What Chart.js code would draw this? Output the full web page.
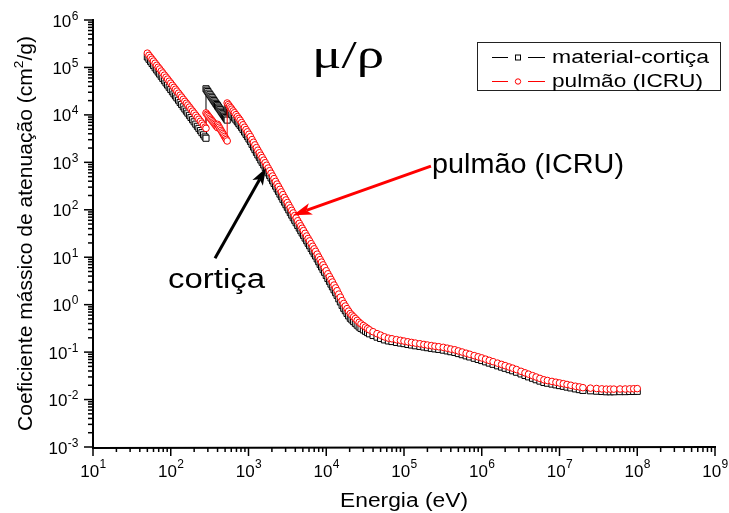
<!DOCTYPE html>
<html><head><meta charset="utf-8">
<script src="https://cdn.jsdelivr.net/npm/chart.js@4/dist/chart.umd.min.js"></script>
<style>html,body{margin:0;padding:0;background:#fff;}</style>
</head><body>
<canvas id="c" width="729" height="513"></canvas>
<script>
// ---------- data ----------
const energy = [
  50,52.5,55,57.5,60,63,66,69,72,75.5,79,83,87,91,95.5,100,105,110,115,120,
  126,132,138,145,152,159,166,174,182,191,200,210,220,230,241,252,264,276,284,
  284,292,300,310,320,330,340,350,360,370,380,390,400,
  400,410,420,432,444,456,468,480,493,506,519,532,
  532,550,570,590,610,635,660,690,720,750,780,
  815,850,890,930,970,1015,
  1060,1110,1160,1210,
  1265,1320,1380,1440,1500,1570,
  1640,1710,1790,1870,1950,2040,2130,2230,2330,2430,2540,2650,2770,
  2900,3030,3160,3300,3450,3600,
  3760,3930,4100,4300,4500,4700,4900,5100,5350,5600,5850,6100,6400,6700,7000,
  7300,7650,8000,8350,8700,9100,9500,10000,10500,11000,11500,12000,12600,13200,13800,
  14500,15200,16000,
  16800,17600,18500,19400,
  20400,21400,22500,23700,25000,26500,
  28000,30000,32000,34000,36000,
  4e4,4.5e4,5e4,5.6e4,6.3e4,7e4,8e4,9e4,1e5,1.12e5,
  1.25e5,1.4e5,1.6e5,1.8e5,2e5,2.25e5,2.5e5,2.8e5,3.2e5,3.6e5,
  4e5,4.5e5,5e5,5.6e5,6.3e5,7e5,8e5,9e5,1e6,1.12e6,
  1.25e6,1.4e6,1.6e6,1.8e6,2e6,2.25e6,2.5e6,2.8e6,3.2e6,3.6e6,
  4e6,4.5e6,5e6,5.6e6,6.3e6,7e6,8e6,9e6,1e7,1.12e7,
  1.25e7,1.4e7,1.6e7,1.8e7,2e7,2.5e7,3e7,3.5e7,4e7,4.5e7,
  5e7,6e7,7e7,8e7,9e7,1e8
];
const muCortica = [
  1.66e5,1.49e5,1.34e5,1.21e5,1.10e5,9.82e4,8.84e4,7.99e4,7.26e4,6.51e4,5.88e4,5.25e4,4.72e4,4.26e4,3.82e4,3.44e4,3.08e4,2.77e4,2.51e4,2.28e4,
  2.04e4,1.83e4,1.66e4,1.48e4,1.33e4,1.20e4,1.09e4,9.79e3,8.84e3,7.92e3,7.14e3,6.39e3,5.75e3,5.20e3,4.67e3,4.22e3,3.80e3,3.43e3,3.22e3,
  3.55e4,3.32e4,3.11e4,2.87e4,2.66e4,2.47e4,2.30e4,2.14e4,2.00e4,1.87e4,1.75e4,1.65e4,1.55e4,
  1.55e4,1.46e4,1.38e4,1.29e4,1.20e4,1.13e4,1.06e4,9.97e3,9.34e3,8.77e3,8.25e3,7.77e3,
  1.35e4,1.26e4,1.17e4,1.09e4,1.01e4,9.30e3,8.58e3,7.82e3,7.15e3,6.56e3,6.04e3,
  5.47e3,4.91e3,4.36e3,3.89e3,3.49e3,3.10e3,
  2.76e3,2.40e3,2.10e3,1.85e3,
  1.62e3,1.43e3,1.27e3,1.12e3,1.00e3,882,
  779,689,601,529,468,409,360,315,276,244,214,189,166,
  145,128,113,99.5,87.4,77.2,
  68.1,60.0,53.3,46.7,41.1,36.4,32.4,28.9,25.3,22.3,19.7,17.5,15.3,13.5,11.9,
  10.6,9.20,8.05,7.08,6.26,5.47,4.81,4.12,3.56,3.10,2.71,2.38,2.06,1.79,1.57,
  1.33,1.14,0.966,
  0.839,0.745,0.655,0.580,
  0.516,0.477,0.440,0.404,0.370,0.338,
  0.316,0.294,0.275,0.258,0.243,
  0.224,0.207,0.194,0.181,0.172,0.167,0.160,0.155,0.151,0.145,
  0.141,0.136,0.132,0.128,0.124,0.120,0.117,0.114,0.110,0.106,
  0.102,0.0984,0.0933,0.0883,0.0834,0.0791,0.0741,0.0700,0.0664,0.0624,
  0.0587,0.0553,0.0514,0.0483,0.0456,0.0428,0.0404,0.0377,0.0347,0.0322,
  0.0301,0.0281,0.0262,0.0245,0.0229,0.0221,0.0212,0.0204,0.0197,0.0190,
  0.0183,0.0176,0.0168,0.0162,0.0156,0.0153,0.0150,0.0148,0.0146,0.0146,
  0.0146,0.0147,0.0147,0.0148,0.0148,0.0149
];
const muPulmao = [
  2.00e5,1.80e5,1.63e5,1.49e5,1.36e5,1.23e5,1.11e5,1.01e5,9.28e4,8.40e4,7.64e4,6.88e4,6.24e4,5.68e4,5.13e4,4.66e4,4.20e4,3.81e4,3.47e4,3.17e4,
  2.87e4,2.60e4,2.37e4,2.13e4,1.93e4,1.76e4,1.61e4,1.46e4,1.32e4,1.20e4,1.09e4,9.80e3,8.89e3,8.10e3,7.34e3,6.68e3,6.06e3,5.52e3,5.20e3,
  1.10e4,1.03e4,9.78e3,9.14e3,8.56e3,8.03e3,7.54e3,7.10e3,6.70e3,6.32e3,5.98e3,5.67e3,5.38e3,
  6.31e3,5.89e3,5.50e3,5.08e3,4.70e3,4.36e3,4.06e3,3.78e3,3.50e3,3.25e3,3.03e3,2.82e3,
  1.78e4,1.65e4,1.53e4,1.42e4,1.32e4,1.21e4,1.11e4,1.01e4,9.20e3,8.41e3,7.73e3,
  6.88e3,6.18e3,5.49e3,4.90e3,4.39e3,3.91e3,
  3.48e3,3.02e3,2.65e3,2.33e3,
  2.04e3,1.80e3,1.59e3,1.41e3,1.26e3,1.11e3,
  981,867,757,666,589,515,454,396,348,308,270,238,209,
  182,161,142,125,110,97.2,
  85.7,75.6,67.1,58.7,51.7,45.8,40.8,36.4,31.9,28.0,24.8,22.1,19.3,17.0,15.0,
  13.3,11.6,10.1,8.91,7.88,6.89,6.05,5.19,4.48,3.90,3.41,3.00,2.59,2.26,1.97,
  1.67,1.44,1.22,
  1.06,0.937,0.825,0.731,
  0.650,0.601,0.553,0.509,0.466,0.424,
  0.393,0.363,0.337,0.314,0.294,
  0.269,0.245,0.228,0.210,0.197,0.191,0.183,0.177,0.171,0.165,
  0.160,0.155,0.150,0.145,0.141,0.137,0.133,0.130,0.126,0.121,
  0.116,0.112,0.106,0.1005,0.0948,0.0900,0.0843,0.0796,0.0755,0.0710,
  0.0668,0.0629,0.0585,0.0550,0.0519,0.0486,0.0459,0.0429,0.0394,0.0366,
  0.0343,0.0319,0.0299,0.0279,0.0261,0.0252,0.0241,0.0232,0.0224,0.0216,
  0.0208,0.0200,0.0191,0.0185,0.0178,0.0174,0.0171,0.0168,0.0166,0.0166,
  0.0166,0.0167,0.0167,0.0168,0.0169,0.0170
];
const seriesNames = ['material-cortiça', 'pulmão (ICRU)'];
const xTickLabels = ['10^1','10^2','10^3','10^4','10^5','10^6','10^7','10^8','10^9'];
const yTickLabels = ['10^-3','10^-2','10^-1','10^0','10^1','10^2','10^3','10^4','10^5','10^6'];
const xTitle = 'Energia (eV)';
const yTitleParts = ['Coeficiente mássico de atenuação (cm', '2', '/g)'];
const plotTitle = 'μ/ρ';
// annotation arrows in data coordinates: [E tail, mu tail, E tip, mu tip]
const arrowCortica = [371, 9.5, 1680, 755];
const arrowPulmao = [2.22e5, 832, 3730, 77];
const labelCortica = 'cortiça';
const labelPulmao = 'pulmão (ICRU)';

const SANS = '"Liberation Sans", Arial, Helvetica, sans-serif';

function tickValue(lbl){ const p = lbl.split('^'); return Math.pow(Number(p[0]), Number(p[1])); }

function fitText(ctx, text, x, y, font, width, align){
  ctx.save(); ctx.font = font;
  const w = ctx.measureText(text).width; const s = width / w;
  ctx.translate(x, y); ctx.scale(s, 1);
  const ox = align === 'center' ? -w/2 : (align === 'right' ? -w : 0);
  ctx.textAlign = 'left'; ctx.textBaseline = 'alphabetic';
  ctx.fillText(text, ox, 0); ctx.restore();
}

function drawPow(ctx, lbl, x, y, align, expDy){
  const p = lbl.split('^');
  ctx.save(); ctx.textAlign = 'left'; ctx.textBaseline = 'alphabetic'; ctx.fillStyle = '#000';
  ctx.font = '17px ' + SANS; const wb = ctx.measureText(p[0]).width;
  ctx.font = '12px ' + SANS; const we = ctx.measureText(p[1]).width;
  let x0 = align === 'right' ? x - wb - we : x - (wb + we)/2;
  ctx.font = '17px ' + SANS; ctx.fillText(p[0], x0, y);
  ctx.font = '12px ' + SANS; ctx.fillText(p[1], x0 + wb + 0.5, y + expDy);
  ctx.restore();
}

function arrow(ctx, x1, y1, x2, y2, color, lw, hl, hw){
  const a = Math.atan2(y2 - y1, x2 - x1), c = Math.cos(a), s = Math.sin(a);
  const bx = x2 - hl*c, by = y2 - hl*s;
  const nx = x2 - hl*0.75*c, ny = y2 - hl*0.75*s;
  ctx.save();
  ctx.strokeStyle = color; ctx.lineWidth = lw; ctx.lineCap = 'butt';
  ctx.beginPath(); ctx.moveTo(x1, y1); ctx.lineTo(nx, ny); ctx.stroke();
  ctx.fillStyle = color; ctx.beginPath();
  ctx.moveTo(x2, y2); ctx.lineTo(bx - hw*s, by + hw*c); ctx.lineTo(nx, ny); ctx.lineTo(bx + hw*s, by - hw*c);
  ctx.closePath(); ctx.fill(); ctx.restore();
}

const decor = {
  id: 'decor',
  afterDatasetsDraw(chart){
    const ctx = chart.ctx, a = chart.chartArea, xs = chart.scales.x, ys = chart.scales.y;
    ctx.save();
    ctx.strokeStyle = '#000'; ctx.lineWidth = 2;
    ctx.beginPath(); ctx.moveTo(a.left, a.top - 1); ctx.lineTo(a.left, a.bottom + 1); ctx.lineTo(a.right + 1, a.bottom); ctx.stroke();
    ctx.lineWidth = 1.5;
    yTickLabels.forEach((lbl, i) => {
      const v = tickValue(lbl), py = ys.getPixelForValue(v);
      ctx.beginPath(); ctx.moveTo(a.left - 9, py); ctx.lineTo(a.left, py); ctx.stroke();
      drawPow(ctx, lbl, a.left - 15, py + 6.5, 'right', -7);
      if (i < yTickLabels.length - 1) {
        for (let m = 2; m <= 9; m++) {
          const pm = ys.getPixelForValue(v * m);
          ctx.beginPath(); ctx.moveTo(a.left - 5, pm); ctx.lineTo(a.left, pm); ctx.stroke();
        }
      }
    });
    xTickLabels.forEach((lbl, i) => {
      const v = tickValue(lbl), px = xs.getPixelForValue(v);
      ctx.beginPath(); ctx.moveTo(px, a.bottom); ctx.lineTo(px, a.bottom + 9); ctx.stroke();
      drawPow(ctx, lbl, px, a.bottom + 30, 'center', -9);
      if (i < xTickLabels.length - 1) {
        for (let m = 2; m <= 9; m++) {
          const pm = xs.getPixelForValue(v * m);
          ctx.beginPath(); ctx.moveTo(pm, a.bottom); ctx.lineTo(pm, a.bottom + 5); ctx.stroke();
        }
      }
    });
    ctx.fillStyle = '#000';
    fitText(ctx, xTitle, (a.left + a.right)/2, 507, '20px ' + SANS, 128, 'center');
    ctx.save();
    ctx.translate(32, (a.top + a.bottom)/2); ctx.rotate(-Math.PI/2);
    ctx.font = '20px ' + SANS; const w1 = ctx.measureText(yTitleParts[0]).width, w3 = ctx.measureText(yTitleParts[2]).width;
    ctx.font = '13px ' + SANS; const w2 = ctx.measureText(yTitleParts[1]).width;
    const tot = w1 + w2 + w3, sc = 395 / tot;
    ctx.scale(sc, 1);
    let xx = -tot/2; ctx.textAlign = 'left'; ctx.textBaseline = 'alphabetic';
    ctx.font = '20px ' + SANS; ctx.fillText(yTitleParts[0], xx, 0); xx += w1;
    ctx.font = '13px ' + SANS; ctx.fillText(yTitleParts[1], xx, -9); xx += w2;
    ctx.font = '20px ' + SANS; ctx.fillText(yTitleParts[2], xx, 0);
    ctx.restore();
    fitText(ctx, plotTitle, 312, 68, '40px "Liberation Serif", "DejaVu Serif", serif', 72, 'left');
    arrow(ctx, xs.getPixelForValue(arrowCortica[0]), ys.getPixelForValue(arrowCortica[1]),
               xs.getPixelForValue(arrowCortica[2]), ys.getPixelForValue(arrowCortica[3]), '#000', 3, 17, 6);
    arrow(ctx, xs.getPixelForValue(arrowPulmao[0]), ys.getPixelForValue(arrowPulmao[1]),
               xs.getPixelForValue(arrowPulmao[2]), ys.getPixelForValue(arrowPulmao[3]), '#ff0000', 3, 19, 6);
    ctx.fillStyle = '#000';
    fitText(ctx, labelPulmao, 432, 173, '27px ' + SANS, 192, 'left');
    fitText(ctx, labelCortica, 168, 288, '27px ' + SANS, 97, 'left');
    ctx.fillStyle = '#fff'; ctx.fillRect(477, 42, 244, 49);
    ctx.strokeStyle = '#222'; ctx.lineWidth = 1; ctx.strokeRect(477.5, 42.5, 243, 48);
    const rows = [{y:57, base:63, color:'#000', w:157}, {y:81, base:87, color:'#ff0000', w:151}];
    rows.forEach((r, i) => {
      ctx.strokeStyle = r.color; ctx.lineWidth = 1;
      ctx.beginPath(); ctx.moveTo(492, r.y + 0.5); ctx.lineTo(508, r.y + 0.5);
      ctx.moveTo(528, r.y + 0.5); ctx.lineTo(545, r.y + 0.5); ctx.stroke();
      ctx.fillStyle = '#fff';
      if (i === 0) { ctx.fillRect(515.5, r.y - 2, 5, 5); ctx.strokeRect(515.5, r.y - 2, 5, 5); }
      else { ctx.beginPath(); ctx.arc(518, r.y + 0.5, 2.7, 0, Math.PI*2); ctx.fill(); ctx.stroke(); }
      ctx.fillStyle = '#000';
      fitText(ctx, seriesNames[i], 552, r.base, '18px ' + SANS, r.w, 'left');
    });
    ctx.restore();
  }
};

new Chart(document.getElementById('c'), {
  type: 'line',
  data: {
    datasets: [
      { label: seriesNames[0], data: energy.map((e, i) => ({x: e, y: muCortica[i]})),
        borderColor: '#000', borderWidth: 1, pointStyle: 'rect', pointRadius: 4.3,
        pointBorderWidth: 1, pointBorderColor: '#000', pointBackgroundColor: '#fff', order: 2, tension: 0 },
      { label: seriesNames[1], data: energy.map((e, i) => ({x: e, y: muPulmao[i]})),
        borderColor: '#ff0000', borderWidth: 1, pointStyle: 'circle', pointRadius: 3.3,
        pointBorderWidth: 1, pointBorderColor: '#ff0000', pointBackgroundColor: '#fff', order: 1, tension: 0 }
    ]
  },
  options: {
    responsive: false, animation: false, devicePixelRatio: 1,
    layout: { padding: { left: 93, right: 14, top: 20, bottom: 66 } },
    scales: {
      x: { type: 'logarithmic', min: 10, max: 1e9, display: false },
      y: { type: 'logarithmic', min: 1e-3, max: 1e6, display: false }
    },
    plugins: { legend: { display: false }, tooltip: { enabled: false } }
  },
  plugins: [decor]
});
</script>
</body></html>
